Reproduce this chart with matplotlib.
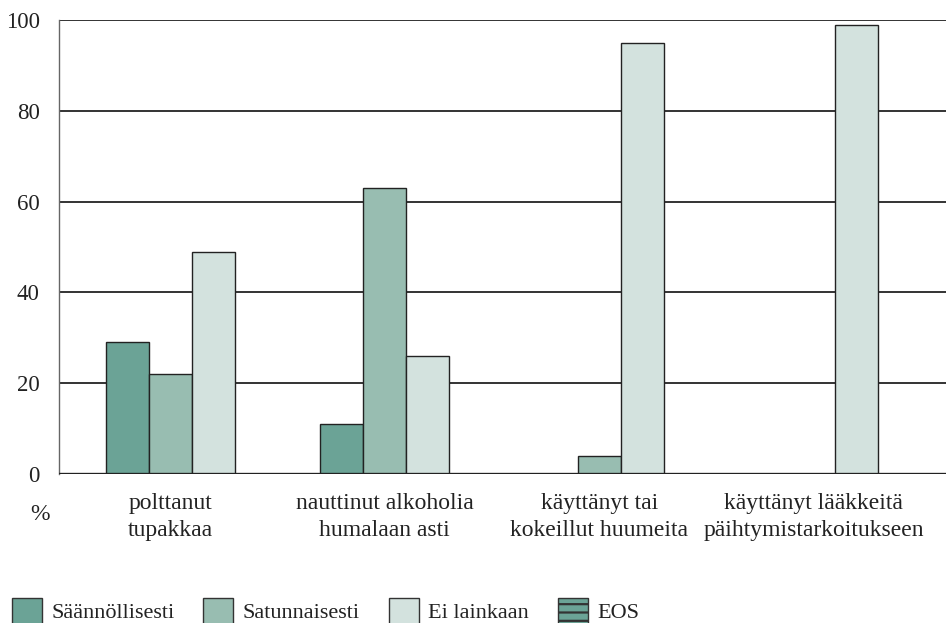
import matplotlib.pyplot as plt
from matplotlib.patches import Patch

categories = ["polttanut\ntupakkaa", "nauttinut alkoholia\nhumalaan asti",
              "käyttänyt tai\nkokeillut huumeita", "käyttänyt lääkkeitä\npäihtymistarkoitukseen"]
series_names = ["Säännöllisesti", "Satunnaisesti", "Ei lainkaan", "EOS"]
saannollisesti = [29, 11, 0, 0]
satunnaisesti = [22, 63, 4, 0]
ei_lainkaan = [49, 26, 95, 99]
eos = [0, 0, 0, 0]
yticks = [0, 20, 40, 60, 80, 100]

colors = ["#6ba396", "#98bdb1", "#d3e2de", "#6ba396"]

plt.rcParams['font.family'] = ['Liberation Serif', 'DejaVu Serif']
plt.rcParams['hatch.linewidth'] = 1.6
plt.rcParams['hatch.color'] = "#333333"

fig = plt.figure(figsize=(9.46, 6.23), dpi=100)
ax = fig.add_axes([59 / 946, 1 - 474 / 623, 1 - 59 / 946, (474 - 20) / 623])

w = 0.2
data = [saannollisesti, satunnaisesti, ei_lainkaan, eos]
for j, vals in enumerate(data):
    xs = [i + (j - 1) * w for i in range(len(categories))]
    hatch = "--" if j == 3 else None
    ax.bar(xs, vals, width=w, color=colors[j], edgecolor="#222222",
           linewidth=1.0, hatch=hatch, zorder=3)

# gridlines + thicker base line
for y in yticks[1:]:
    ax.axhline(y, color="#333333", linewidth=1.4, zorder=1)
ax.axhline(0, color="#222222", linewidth=2.4, zorder=4)

ax.set_xlim(-0.519, 3.616)
ax.set_ylim(0, 100)
ax.set_yticks(yticks)
ax.set_xticks(range(len(categories)))
ax.set_xticklabels(categories, fontsize=17, linespacing=1.35)
ax.tick_params(axis="both", length=0, colors="#222222")
ax.tick_params(axis="y", pad=14, labelsize=16.5)
ax.tick_params(axis="x", pad=14)
for s in ax.spines.values():
    s.set_visible(False)
ax.spines["left"].set_visible(True)
ax.spines["left"].set_color("#666666")
ax.spines["left"].set_linewidth(1.0)

fig.text(40 / 946, 1 - 515 / 623, "%", fontsize=17, ha="center", va="center",
         color="#222222")

handles = []
for j in range(4):
    handles.append(Patch(facecolor=colors[j], edgecolor="#333333", linewidth=1.0,
                         hatch="--" if j == 3 else None))
fig.legend(handles, series_names, loc="center left", bbox_to_anchor=(12 / 946, 1 - 611 / 623),
           ncol=4, frameon=False, fontsize=16, handlelength=1.35, handleheight=1.4,
           handletextpad=0.42, columnspacing=1.3, borderpad=0, borderaxespad=0,
           labelcolor="#222222")

fig.savefig("out.png", dpi=100)
